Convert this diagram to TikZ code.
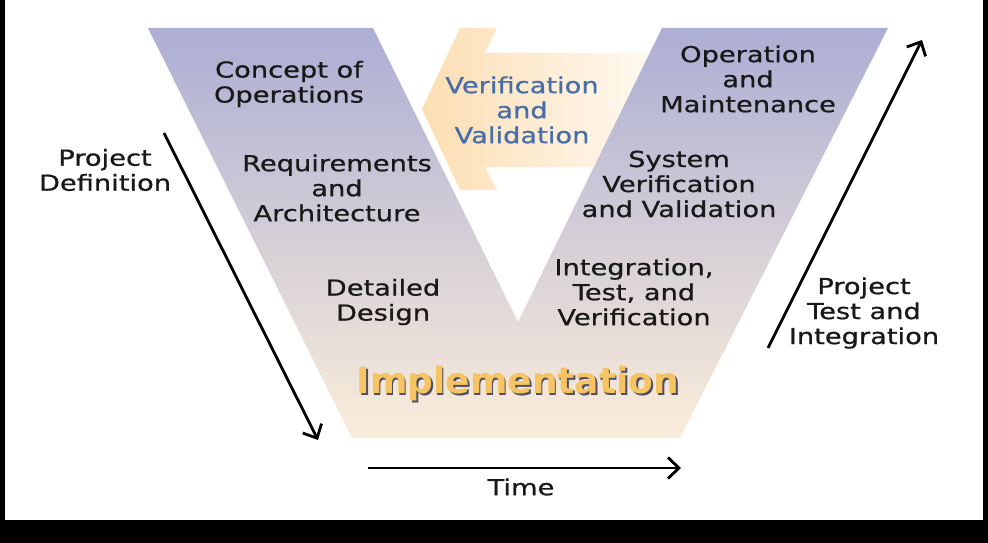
\documentclass[tikz,border=0pt]{standalone}
\usepackage{fontspec}
\setmainfont{DejaVu Sans}
\newfontfamily\dvw[FakeStretch=1.24,FakeBold=0.7]{DejaVu Sans}
\newfontfamily\dvb[FakeStretch=1.0]{DejaVu Sans Bold}
\usetikzlibrary{arrows.meta}
\definecolor{vtop}{RGB}{172,174,212}
\definecolor{vmid}{RGB}{222,212,222}
\definecolor{vbot}{RGB}{250,237,218}
\definecolor{vvorange}{RGB}{252,222,178}
\definecolor{vvblue}{RGB}{72,110,170}
\definecolor{implorange}{RGB}{246,196,98}
\definecolor{implshadow}{RGB}{80,78,100}
\tikzset{
  lbl/.style={font=\dvw\fontsize{22}{25}\selectfont, align=center, text=black!90, inner sep=0pt},
  bigarrow/.style={line width=2.8pt, -{Straight Barb[length=11pt,width=21pt,line width=2.8pt]}},
}
\begin{document}
\begin{tikzpicture}[x=1pt,y=-1pt]
\useasboundingbox (0,0) rectangle (988,543);
\fill[black] (0,0) rectangle (988,543);
\fill[white] (5,0) rectangle (983,520);
% V&V arrow (under the V)
\shade[left color=vvorange, right color=white]
  (460,28) -- (497,28) -- (485,53) -- (700,53) -- (700,167) -- (485,167) -- (497,190) -- (460,190) -- (422,109) -- cycle;
% V shape
\shade[top color=vtop, middle color=vmid, bottom color=vbot]
  (148,28) -- (373,28) -- (518,322) -- (662,28) -- (888,28) -- (680,438) -- (352,438) -- cycle;
% labels
\node[lbl] (cop) at (289,84) {Concept of\\Operations};
\node[lbl] (req) at (337,188) {Requirements\\and\\Architecture};
\node[lbl] (dd) at (383,302) {Detailed\\Design};
\node[lbl, text=vvblue] (vv) at (522,110) {Verification\\and\\Validation};
\node[lbl] (om) at (748,79) {Operation\\and\\Maintenance};
\node[lbl] (svv) at (679,184) {System\\Verification\\and Validation};
\node[lbl] (itv) at (634,292) {Integration,\\Test, and\\Verification};
\node[font=\dvb\fontsize{36}{40}\selectfont, text=implshadow, inner sep=0pt] (implsh) at (519.5,385.5) {Implementation};
\node[font=\dvb\fontsize{36}{40}\selectfont, text=implorange, inner sep=0pt] (impl) at (518,384) {Implementation};
\node[lbl] (pd) at (105,170) {Project\\Definition};
\node[lbl] (pti) at (864,313) {Project\\Test and\\Integration};
\node[lbl] (time) at (521,487) {Time};
% arrows
\coordinate (pdA) at (164,133);
\coordinate (pdB) at (318,440);
\coordinate (ptA) at (768,348);
\coordinate (ptB) at (922,40);
\coordinate (tA) at (368,468);
\coordinate (tB) at (681,468);
\draw[bigarrow] (pdA) -- (pdB);
\draw[bigarrow] (ptA) -- (ptB);
\draw[bigarrow] (tA) -- (tB);
\end{tikzpicture}
\end{document}
